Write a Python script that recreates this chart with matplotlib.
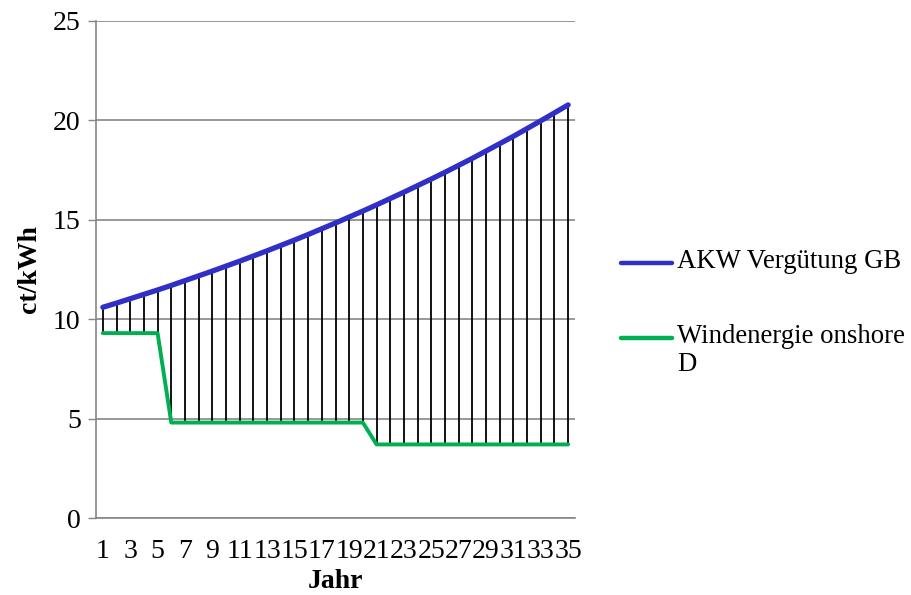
import matplotlib

matplotlib.use("Agg")
import matplotlib.pyplot as plt
from matplotlib.lines import Line2D
import numpy as np

plt.rcParams["font.family"] = ["Liberation Serif", "DejaVu Serif"]

years = list(range(1, 36))
akw_gb = [10.60, 10.81, 11.03, 11.25, 11.47, 11.70, 11.94, 12.18, 12.42, 12.67,
          12.92, 13.18, 13.44, 13.71, 13.98, 14.26, 14.55, 14.84, 15.14, 15.44,
          15.75, 16.07, 16.39, 16.72, 17.05, 17.39, 17.74, 18.09, 18.46, 18.83,
          19.20, 19.59, 19.98, 20.38, 20.78]
wind_onshore = [9.3] * 5 + [4.8] * 15 + [3.7] * 15
y_ticks = [0, 5, 10, 15, 20, 25]
series_labels = ["AKW Vergütung GB", "Windenergie onshore\nD"]
series_colors = ["#3030C8", "#00B050"]
series_widths = [3.8, 2.8]

grid_gray = "#868686"
W, H = 911, 595

fig = plt.figure(figsize=(W / 100, H / 100), dpi=100)
ax = fig.add_axes([96 / W, 1 - 518 / H, (575 - 96) / W, (518 - 21) / H])

x = np.arange(len(years))
ax.vlines(x, wind_onshore, akw_gb, color="black", lw=1.3, zorder=2)
for vals, col, lw in zip([akw_gb, wind_onshore], series_colors, series_widths):
    ax.plot(x, vals, color=col, lw=lw, solid_capstyle="round", zorder=3)

ax.set_xlim(-0.5, len(years) - 0.5)
ax.set_ylim(0, 25)
ax.set_yticks(y_ticks)
ax.set_xticks(x[::2])
ax.set_xticklabels([str(y) for y in years[::2]])
ax.tick_params(axis="y", length=6, width=1, color=grid_gray, pad=5, labelsize=20)
ax.tick_params(axis="x", length=0, pad=15, labelsize=20)
ax.grid(axis="y", color=grid_gray, lw=1.2, zorder=0)
ax.set_axisbelow(True)
for side in ("top", "right"):
    ax.spines[side].set_visible(False)
for side in ("left", "bottom"):
    ax.spines[side].set_color(grid_gray)
    ax.spines[side].set_linewidth(1.2)

ax.set_ylabel("ct/kWh", fontsize=20, fontweight="bold", labelpad=8)
ax.set_xlabel("Jahr", fontsize=20, fontweight="bold", labelpad=4)

# legend drawn by hand so the handle sits on the first text line
legend_rows = [263, 338]
for label, col, row in zip(series_labels, series_colors, legend_rows):
    yf = 1 - row / H
    fig.add_artist(Line2D([621 / W, 672 / W], [yf, yf], color=col, lw=3.2,
                          solid_capstyle="round", transform=fig.transFigure))
    fig.text(677 / W, 1 - (row - 14) / H, label, fontsize=19.3, va="top",
             ha="left", linespacing=1.17, transform=fig.transFigure)

fig.savefig("out.png", dpi=100)
